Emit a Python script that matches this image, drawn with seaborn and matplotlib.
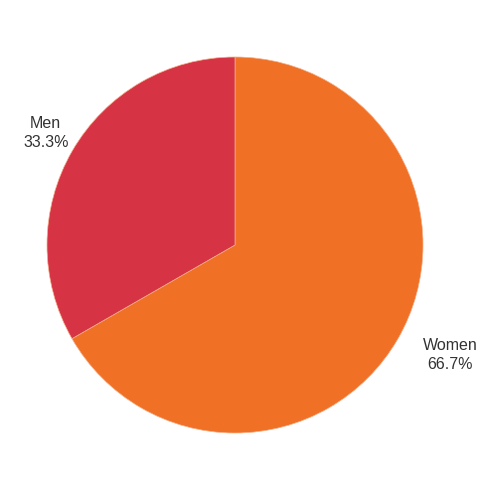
import matplotlib
matplotlib.use('Agg')
import matplotlib.pyplot as plt
import seaborn as sns
import numpy as np

# Gender split
labels = ['Women', 'Men']
shares = [66.7, 33.3]
colors = ['#F07025', '#D63445']
label_dist = [1.285, 1.17]
label_turn = [3.0, -0.6]   # small angle nudge (deg) for each label

sns.set_theme(style='white')
plt.rcParams['font.family'] = ['Liberation Sans', 'DejaVu Sans']

fig = plt.figure(figsize=(5, 5), dpi=100)
ax = fig.add_axes([0.094, 0.134, 0.752, 0.752])

wedges, texts = ax.pie(shares, colors=colors, startangle=90, counterclock=False,
                       labels=[f'{l}\n{s}%' for l, s in zip(labels, shares)],
                       labeldistance=1.2,
                       wedgeprops=dict(linewidth=0.5, edgecolor='#F5B08A'),
                       textprops=dict(fontsize=11.5, color='#333333', ha='center',
                                      va='center', linespacing=1.35))

# place each label at its own distance / angle from the wedge middle
for w, t, d, a in zip(wedges, texts, label_dist, label_turn):
    mid = np.deg2rad((w.theta1 + w.theta2) / 2 + a)
    t.set_position((d * np.cos(mid), d * np.sin(mid)))
    t.set_ha('center')

ax.set_xlim(-1, 1)
ax.set_ylim(-1, 1)
ax.set_aspect('equal')

fig.savefig('out.png', dpi=100, facecolor='white')
